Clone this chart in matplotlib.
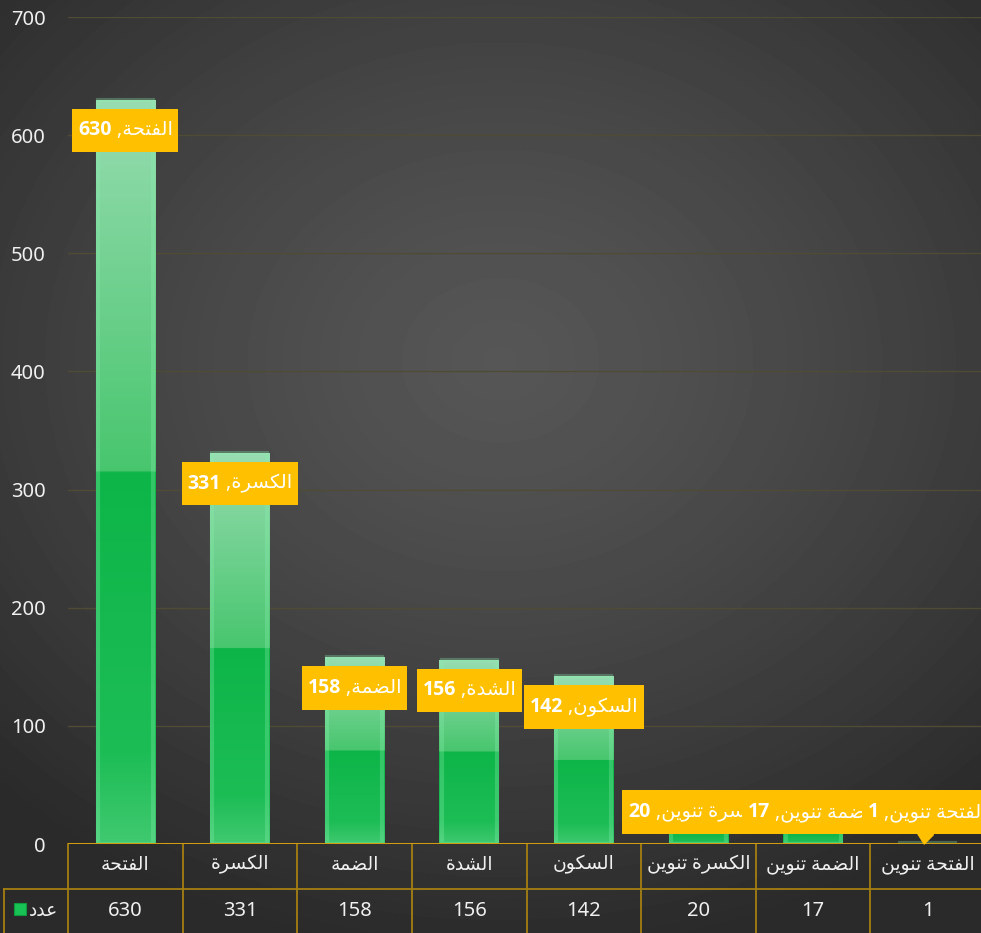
"""Bar chart of Arabic diacritic counts with a data table, dark Excel-like style."""

import numpy as np
import matplotlib.pyplot as plt
import matplotlib.transforms as mtransforms
from matplotlib.colors import LinearSegmentedColormap
from matplotlib.lines import Line2D
from matplotlib.patches import Rectangle
from matplotlib.offsetbox import TextArea, HPacker, AnnotationBbox, DrawingArea

categories = ["الفتحة", "الكسرة", "الضمة", "الشدة", "السكون",
              "الكسرة تنوين", "الضمة تنوين", "الفتحة تنوين"]
counts = [630, 331, 158, 156, 142, 20, 17, 1]
series_name = "عدد"
y_ticks = [0, 100, 200, 300, 400, 500, 600, 700]

plt.rcParams["font.family"] = ["Noto Sans", "DejaVu Sans"]

# Arabic presentation forms: isolated, final, initial, medial
FORMS = {
    "\u0627": ("\uFE8D", "\uFE8E", None, None),
    "\u0629": ("\uFE93", "\uFE94", None, None),
    "\u062A": ("\uFE95", "\uFE96", "\uFE97", "\uFE98"),
    "\u062D": ("\uFEA1", "\uFEA2", "\uFEA3", "\uFEA4"),
    "\u062F": ("\uFEA9", "\uFEAA", None, None),
    "\u0631": ("\uFEAD", "\uFEAE", None, None),
    "\u0633": ("\uFEB1", "\uFEB2", "\uFEB3", "\uFEB4"),
    "\u0634": ("\uFEB5", "\uFEB6", "\uFEB7", "\uFEB8"),
    "\u0636": ("\uFEBD", "\uFEBE", "\uFEBF", "\uFEC0"),
    "\u0639": ("\uFEC9", "\uFECA", "\uFECB", "\uFECC"),
    "\u0641": ("\uFED1", "\uFED2", "\uFED3", "\uFED4"),
    "\u0643": ("\uFED9", "\uFEDA", "\uFEDB", "\uFEDC"),
    "\u0644": ("\uFEDD", "\uFEDE", "\uFEDF", "\uFEE0"),
    "\u0645": ("\uFEE1", "\uFEE2", "\uFEE3", "\uFEE4"),
    "\u0646": ("\uFEE5", "\uFEE6", "\uFEE7", "\uFEE8"),
    "\u0648": ("\uFEED", "\uFEEE", None, None),
    "\u064A": ("\uFEF1", "\uFEF2", "\uFEF3", "\uFEF4"),
}


def shape(text):
    """Join Arabic letters and return them in visual (left-to-right) order."""
    out = []
    for i, ch in enumerate(text):
        f = FORMS.get(ch)
        if f is None:
            out.append(ch)
            continue
        prev = FORMS.get(text[i - 1]) if i > 0 else None
        nxt = FORMS.get(text[i + 1]) if i + 1 < len(text) else None
        join_prev = prev is not None and prev[2] is not None
        join_next = nxt is not None and f[2] is not None
        if join_prev and join_next:
            out.append(f[3])
        elif join_prev:
            out.append(f[1])
        elif join_next:
            out.append(f[2])
        else:
            out.append(f[0])
    return "".join(reversed(out))


W, H = 981, 933
fig = plt.figure(figsize=(W / 100, H / 100), dpi=100)

# radial dark background
bg = fig.add_axes([0, 0, 1, 1], zorder=-10)
yy, xx = np.mgrid[0:H, 0:W]
r = np.clip(np.hypot((xx - 500) / 720, (yy - 360) / 600), 0, 1)
shade = (86 - 44 * r ** 1.3) / 255
bg.imshow(shade, cmap="gray", vmin=0, vmax=1, aspect="auto", interpolation="bilinear")
bg.axis("off")

ax = fig.add_axes([68 / W, 89 / H, 917 / W, 827 / H])
ax.set_facecolor("none")
for s in ax.spines.values():
    s.set_visible(False)

x = np.arange(len(counts))
bar_w = 0.52
bars = ax.bar(x, counts, width=bar_w, color="#10b94a", edgecolor="none", zorder=2)

cmap = LinearSegmentedColormap.from_list("bar", [
    (0.0, "#40c970"), (0.12, "#1dbd56"), (0.499, "#0db548"),
    (0.5, "#48c66e"), (0.85, "#7fd59c"), (1.0, "#98ddb2")])
grad = np.linspace(0, 1, 256).reshape(-1, 1)
for rect in bars:
    x0 = rect.get_x()
    im = ax.imshow(grad, extent=(x0, x0 + rect.get_width(), 0, rect.get_height()),
                   origin="lower", aspect="auto", cmap=cmap, zorder=3)
    im.set_clip_path(rect)
ax.bar(x, counts, width=bar_w - 0.04, color="none", edgecolor="#8af0b0",
       linewidth=3, alpha=0.3, zorder=4)

ax.set_xlim(-0.5, len(counts) - 0.5)
ax.set_ylim(0, 700)
ax.set_yticks(y_ticks)
ax.set_xticks([])
ax.grid(axis="y", color="#4f4b35", linewidth=1)
ax.set_axisbelow(True)
ax.tick_params(axis="y", length=0, pad=16, labelsize=14.5, labelcolor="#f0f0f0")
ax.axhline(0, color="#d09c10", linewidth=2.2, zorder=5)

# data labels
num_font = dict(color="white", fontsize=14, fontweight="bold",
                family=["Open Sans", "DejaVu Sans"])
for i, (cat, v) in enumerate(zip(categories, counts)):
    ypos = v - 26 if v > 100 else 27
    box = HPacker(children=[
        DrawingArea(0, 23),
        TextArea(str(v), textprops=num_font),
        TextArea(" ," + shape(cat), textprops=dict(color="white", fontsize=14)),
    ], align="center", pad=0, sep=0)
    if ypos - v > 20:
        kw = dict(xy=(i - 0.03, 0), xybox=(i, ypos), boxcoords="data",
                  arrowprops=dict(arrowstyle="wedge,tail_width=0.6", color="#FFC000",
                                  shrinkA=0, shrinkB=0))
    else:
        kw = dict(xy=(i, ypos))
    ab = AnnotationBbox(box, frameon=True, pad=0.5, fontsize=14,
                        bboxprops=dict(facecolor="#FFC000", edgecolor="none",
                                       boxstyle="square"),
                        box_alignment=(0.5, 0.5), annotation_clip=False,
                        zorder=6 + i, **kw)
    ax.add_artist(ab)

# data table below the plot
trans = mtransforms.blended_transform_factory(ax.transData, fig.transFigure)
y_top, y_mid = 89 / H, 44 / H
line_c = "#a57f12"
for b in np.arange(len(counts) + 1) - 0.5:
    ax.add_line(Line2D([b, b], [-0.01, y_top], transform=trans, color=line_c,
                       linewidth=1.3, clip_on=False))
fig.add_artist(Line2D([4 / W, 1], [y_mid, y_mid], color=line_c, linewidth=1.3))
fig.add_artist(Line2D([4 / W, 4 / W], [-0.01, y_mid], color=line_c, linewidth=1.3))
for i, (cat, v) in enumerate(zip(categories, counts)):
    ax.text(i, (y_top + y_mid) / 2 + 0.002, shape(cat), transform=trans, ha="center",
            va="center", fontsize=13.5, color="#f0f0f0", clip_on=False)
    ax.text(i, y_mid / 2, str(v), transform=trans, ha="center", va="center",
            fontsize=14.5, color="#f0f0f0", clip_on=False)
fig.add_artist(Rectangle((14 / W, (H - 915) / H), 12 / W, 12 / H,
                         facecolor="#19c254", edgecolor="#0e9a3e", linewidth=0.8))
fig.text(58 / W, y_mid / 2, shape(series_name), ha="right", va="center",
         fontsize=13.5, color="#f0f0f0")

fig.savefig("out.png", dpi=100)
